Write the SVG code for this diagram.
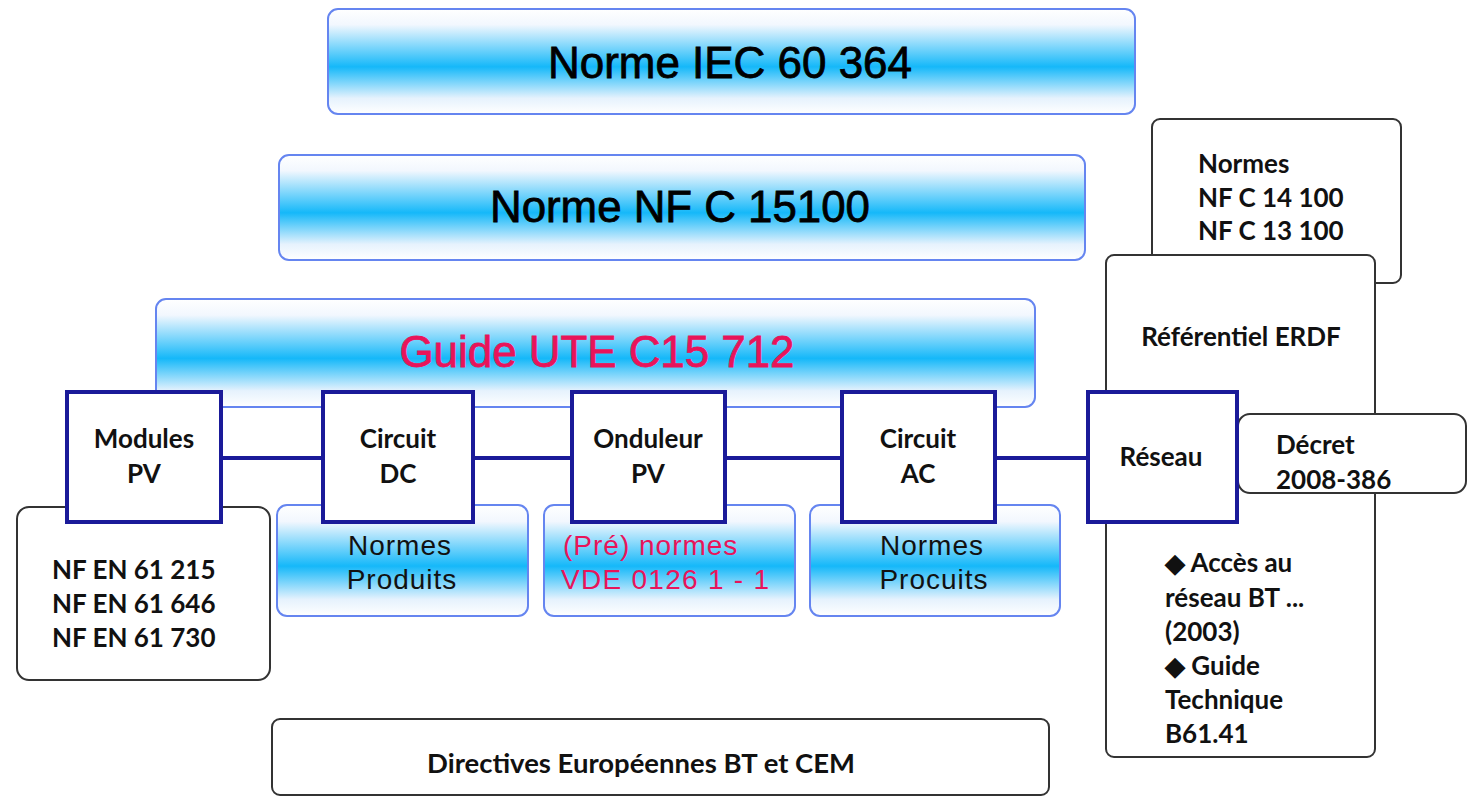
<svg xmlns="http://www.w3.org/2000/svg" width="1468" height="798" viewBox="0 0 1468 798">
<defs>
<linearGradient id="g" x1="0" y1="0" x2="0" y2="1">
<stop offset="0" stop-color="#ffffff"/>
<stop offset="0.15" stop-color="#f2f7fe"/>
<stop offset="0.55" stop-color="#15b8f9"/>
<stop offset="0.85" stop-color="#e6f2fd"/>
<stop offset="1" stop-color="#ffffff"/>
</linearGradient>
<style>
.gb{fill:url(#g);stroke:#6585f0;stroke-width:2}
.wb{fill:#fff;stroke:#333;stroke-width:2}
.sq{fill:#fff;stroke:#1a1a99;stroke-width:4}
.big{font-family:"Liberation Sans",Arial,sans-serif;font-size:44px;text-anchor:middle;fill:#000;stroke:#000;stroke-width:0.8}
.mid{font-family:"Liberation Sans",Arial,sans-serif;font-size:28px;letter-spacing:1px;text-anchor:middle;fill:#111}
.lb{font-family:Lato,"Liberation Sans",sans-serif;font-weight:bold;font-size:26px;fill:#111}
.c{text-anchor:middle}
.pink{fill:#e8145a;stroke:#e8145a}
.mid.pink{stroke:none}
.conn{stroke:#1a1a99;stroke-width:4;fill:none}
</style>
</defs>
<rect width="1468" height="798" fill="#fff"/>

<g id="iec"><rect class="gb" x="328" y="9" width="807" height="105" rx="10"/>
<text class="big" x="730" y="78" textLength="364" lengthAdjust="spacingAndGlyphs">Norme IEC 60 364</text></g>

<g id="nfc15100"><rect class="gb" x="279" y="155" width="806" height="105" rx="10"/>
<text class="big" x="680" y="222" textLength="380" lengthAdjust="spacingAndGlyphs">Norme NF C 15100</text></g>

<g id="guide"><rect class="gb" x="156" y="299" width="879" height="108" rx="10"/>
<text class="big pink" x="597" y="367" textLength="395" lengthAdjust="spacingAndGlyphs">Guide UTE C15 712</text></g>

<g id="nfen"><rect class="wb" x="17" y="507" width="253" height="173" rx="12"/>
<text class="lb" x="52" y="579">NF EN 61 215</text>
<text class="lb" x="52" y="613">NF EN 61 646</text>
<text class="lb" x="52" y="647">NF EN 61 730</text></g>

<g id="produits"><rect class="gb" x="277" y="505" width="251" height="111" rx="10"/>
<text class="mid" x="400" y="555">Normes</text>
<text class="mid" x="402" y="589">Produits</text></g>

<g id="vde"><rect class="gb" x="544" y="505" width="251" height="111" rx="10"/>
<text class="mid pink" x="563" y="555" style="text-anchor:start">(Pré) normes</text>
<text class="mid pink" x="561" y="589" style="text-anchor:start" textLength="209">VDE 0126 1 - 1</text></g>

<g id="procuits"><rect class="gb" x="810" y="505" width="250" height="111" rx="10"/>
<text class="mid" x="932" y="555">Normes</text>
<text class="mid" x="934" y="589">Procuits</text></g>

<g id="normes-nfc"><rect class="wb" x="1152" y="119" width="249" height="164" rx="8"/>
<text class="lb" x="1198" y="173">Normes</text>
<text class="lb" x="1198" y="207">NF C 14 100</text>
<text class="lb" x="1198" y="240">NF C 13 100</text></g>

<g id="erdf"><rect class="wb" x="1106" y="255" width="269" height="502" rx="8"/>
<text class="lb c" x="1241" y="346">Référentiel ERDF</text>
<text class="lb" x="1165" y="572">◆ Accès au</text>
<text class="lb" x="1165" y="607">réseau BT ...</text>
<text class="lb" x="1165" y="641">(2003)</text>
<text class="lb" x="1165" y="675">◆ Guide</text>
<text class="lb" x="1165" y="709">Technique</text>
<text class="lb" x="1165" y="743">B61.41</text></g>

<g id="decret"><rect class="wb" x="1238" y="414" width="228" height="79" rx="12"/>
<text class="lb" x="1276" y="454">Décret</text>
<text class="lb" x="1276" y="489">2008-386</text></g>

<g id="connectors">
<line class="conn" x1="222" y1="458" x2="322" y2="458"/>
<line class="conn" x1="474" y1="458" x2="571" y2="458"/>
<line class="conn" x1="726" y1="458" x2="841" y2="458"/>
<line class="conn" x1="996" y1="458" x2="1087" y2="458"/>
</g>

<g id="modules"><rect class="sq" x="67" y="392" width="154" height="130"/>
<text class="lb c" x="144" y="448">Modules</text>
<text class="lb c" x="144" y="483">PV</text></g>

<g id="circuitdc"><rect class="sq" x="323" y="392" width="150" height="130"/>
<text class="lb c" x="398" y="448">Circuit</text>
<text class="lb c" x="398" y="483">DC</text></g>

<g id="onduleur"><rect class="sq" x="572" y="392" width="153" height="130"/>
<text class="lb c" x="648" y="448">Onduleur</text>
<text class="lb c" x="648" y="483">PV</text></g>

<g id="circuitac"><rect class="sq" x="842" y="392" width="153" height="130"/>
<text class="lb c" x="918" y="448">Circuit</text>
<text class="lb c" x="918" y="483">AC</text></g>

<g id="reseau"><rect class="sq" x="1088" y="392" width="149" height="130"/>
<text class="lb c" x="1161" y="466">Réseau</text></g>

<g id="directives"><rect class="wb" x="272" y="719" width="777" height="76" rx="8"/>
<text class="lb c" x="641" y="773" textLength="428" lengthAdjust="spacingAndGlyphs">Directives Européennes BT et CEM</text></g>
</svg>
